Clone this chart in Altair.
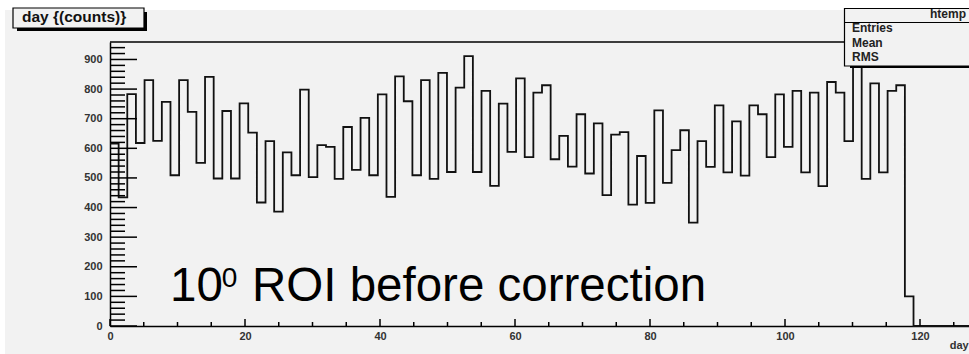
import altair as alt
import pandas as pd

# ---- data (ROOT histogram "htemp", 100 bins over 0..128 days) ----
counts = [616, 434, 783, 618, 830, 625, 757, 509, 830, 723, 551, 841, 498, 726, 498, 752,
          653, 417, 624, 386, 586, 509, 798, 503, 611, 605, 497, 672, 527, 703, 509, 782,
          436, 843, 759, 509, 830, 497, 855, 520, 805, 911, 520, 794, 473, 751, 588,
          836, 570, 788, 813, 563, 642, 538, 715, 515, 684, 442, 646, 655, 410, 574, 416,
          728, 483, 594, 661, 349, 624, 537, 745, 519, 691, 508, 745, 715, 570, 782,
          605, 794, 519, 788, 472, 824, 788, 624, 890, 497, 819, 519, 794, 813, 100]
n_bins = 100
x_low, x_high = 0.0, 128.0
y_max = 959
x_major = [0, 20, 40, 60, 80, 100, 120]
x_minor = [v for v in range(0, 130, 5) if v % 20 != 0]
y_major = [0, 100, 200, 300, 400, 500, 600, 700, 800, 900]
y_minor = [v for v in range(0, 960, 20) if v % 100 != 0]
stats_labels = ["Entries", "Mean", "RMS"]
hist_name = "htemp"
title_text = "day {(counts)}"
axis_title = "day"

W, H = 859, 284
FONT = "Liberation Sans"
BG = "#f2f2f2"

bw = (x_high - x_low) / n_bins
vals = counts + [0] * (n_bins - len(counts))
pts = [{"day": x_low + i * bw, "n": v} for i, v in enumerate(vals)]
pts.append({"day": x_high, "n": 0})
hist_df = pd.DataFrame(pts)

xsc = alt.Scale(domain=[0, W / 6.75], nice=False, zero=False)
ysc = alt.Scale(domain=[0, y_max], nice=False)

x_axis = alt.Axis(values=x_major, title=None, ticks=False, tickSize=0, labelPadding=4,
                  labelFont=FONT, labelFontWeight="bold", labelFontSize=11, labelColor="#333",
                  grid=False, domainColor="black", domainWidth=1.5, labelFlush=False)
y_axis = alt.Axis(values=y_major, title=None, ticks=False, tickSize=0, labelPadding=8,
                  labelFont=FONT, labelFontWeight="bold", labelFontSize=11, labelColor="#333",
                  grid=False, domainColor="black", domainWidth=1.5)


def X(field):
    return alt.X(field, scale=xsc, axis=x_axis)


def Y(field):
    return alt.Y(field, scale=ysc, axis=y_axis)


one = alt.Data(values=[{}])

# decorations: white strip at top/left
strip_top = alt.Chart(one).mark_rect(color="white").encode(
    x=alt.value(-110), x2=alt.value(W), y=alt.value(-42), y2=alt.value(-32))
strip_left = alt.Chart(one).mark_rect(color="white").encode(
    x=alt.value(-110), x2=alt.value(-105), y=alt.value(-42), y2=alt.value(H + 28))

# main histogram
hist = alt.Chart(hist_df).mark_line(interpolate="step-after", color="#111", strokeWidth=1.8).encode(
    x=X("day:Q"), y=Y("n:Q"))

# inward ticks
ymaj = alt.Chart(pd.DataFrame({"v": y_major})).mark_rule(color="black", strokeWidth=1.5).encode(
    y=Y("v:Q"), x=alt.value(0), x2=alt.value(27))
ymin = alt.Chart(pd.DataFrame({"v": y_minor})).mark_rule(color="black", strokeWidth=1.5).encode(
    y=Y("v:Q"), x=alt.value(0), x2=alt.value(15))
xmaj = alt.Chart(pd.DataFrame({"v": x_major})).mark_rule(color="black", strokeWidth=1.5).encode(
    x=X("v:Q"), y=alt.value(H), y2=alt.value(H - 7))
xmin = alt.Chart(pd.DataFrame({"v": x_minor})).mark_rule(color="black", strokeWidth=1.5).encode(
    x=X("v:Q"), y=alt.value(H), y2=alt.value(H - 4))

# top frame line
top_line = alt.Chart(one).mark_rule(color="black", strokeWidth=1.5).encode(
    x=alt.value(0), x2=alt.value(W), y=alt.value(0))

# annotation
ann_df = pd.DataFrame([
    {"x": 8.89, "y": 84.5, "t": "10", "s": 47.5},
    {"x": 16.55, "y": 131.8, "t": "0", "s": 28},
    {"x": 21.04, "y": 84.5, "t": "ROI before correction", "s": 47.5},
])
ann = alt.Chart(ann_df).mark_text(align="left", baseline="alphabetic", font=FONT, color="black").encode(
    x=X("x:Q"), y=Y("y:Q"), text="t:N", size=alt.Size("s:Q", scale=None, legend=None))

# axis title "day"
xtitle = alt.Chart(pd.DataFrame({"x": [124.4], "t": [axis_title]})).mark_text(
    align="left", baseline="alphabetic", font=FONT, fontWeight="bold", fontSize=11, color="#333").encode(
    x=X("x:Q"), y=alt.value(H + 23), text="t:N")

# title box
tb_shadow = alt.Chart(one).mark_rect(color="black").encode(
    x=alt.value(-93), x2=alt.value(37), y=alt.value(-30), y2=alt.value(-11))
tb_box = alt.Chart(one).mark_rect(fill=BG, stroke="black", strokeWidth=1.2).encode(
    x=alt.value(-97), x2=alt.value(34), y=alt.value(-34), y2=alt.value(-14))
tb_text = alt.Chart(pd.DataFrame({"t": [title_text]})).mark_text(
    align="left", baseline="alphabetic", font=FONT, fontWeight="bold", fontSize=15.5, color="#111").encode(
    x=alt.value(-88), y=alt.value(-20), text="t:N")

# stats box
sb_shadow = alt.Chart(one).mark_rect(color="black").encode(
    x=alt.value(740), x2=alt.value(W + 20), y=alt.value(-30), y2=alt.value(26))
sb_box = alt.Chart(one).mark_rect(fill=BG, stroke="black", strokeWidth=1.2).encode(
    x=alt.value(734.5), x2=alt.value(W + 20), y=alt.value(-33.5), y2=alt.value(24))
sb_line = alt.Chart(one).mark_rule(color="black", strokeWidth=1.2).encode(
    x=alt.value(734.5), x2=alt.value(W + 20), y=alt.value(-19.5))
sb_title = alt.Chart(pd.DataFrame({"t": [hist_name]})).mark_text(
    align="right", baseline="alphabetic", font=FONT, fontWeight="bold", fontSize=12, color="#222").encode(
    x=alt.value(856), y=alt.value(-24), text="t:N")
row_y = [-10, 4.5, 19]
sb_rows = [
    alt.Chart(pd.DataFrame({"t": [lab]})).mark_text(
        align="left", baseline="alphabetic", font=FONT, fontWeight="bold", fontSize=12, color="#222").encode(
        x=alt.value(742), y=alt.value(ry), text="t:N")
    for lab, ry in zip(stats_labels, row_y)
]

chart = alt.layer(
    strip_top, strip_left, hist, ymaj, ymin, xmaj, xmin, top_line, ann, xtitle,
    tb_shadow, tb_box, tb_text, sb_shadow, sb_box, sb_line, sb_title, *sb_rows,
).properties(
    width=W, height=H,
    autosize=alt.AutoSizeParams(type="none"),
    padding={"left": 110, "top": 42, "right": 0, "bottom": 28},
    background=BG,
).configure_view(stroke=None)

chart.save("out.html", embed_options={"renderer": "svg", "actions": False})
